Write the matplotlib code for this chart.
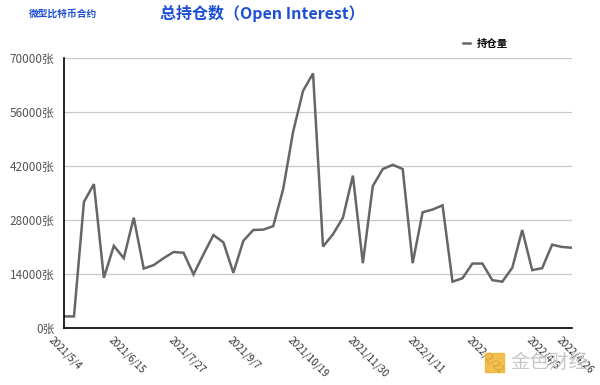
import numpy as np
import pandas as pd
import matplotlib
matplotlib.use("Agg")
import matplotlib.pyplot as plt
from matplotlib.transforms import ScaledTranslation
from matplotlib.patches import Rectangle

plt.rcParams['font.family'] = ['Noto Sans CJK SC', 'DejaVu Sans']

# weekly open interest, micro bitcoin futures (contracts)
dates = pd.date_range('2021-05-04', periods=52, freq='7D')
oi = [3000, 3000, 32700, 37300, 13000, 21300, 18100, 28600, 15400, 16300,
      18100, 19700, 19500, 13900, 19100, 24100, 22200, 14300, 22600, 25400,
      25500, 26400, 36000, 50900, 61500, 66000, 21100, 24300, 28600, 39500,
      16800, 36800, 41200, 42300, 41200, 16800, 30000, 30700, 31800, 12000,
      12900, 16700, 16700, 12400, 12000, 15600, 25400, 15000, 15500, 21600,
      21000, 20800]
yticks = [0, 14000, 28000, 42000, 56000, 70000]
label_idx = list(range(0, 52, 6)) + [51]

fig = plt.figure(figsize=(6, 3.85), dpi=100)
ax = fig.add_axes([0.1067, 0.1481, 0.8467, 0.7013])

x = np.arange(len(oi))
ax.plot(x, oi, color='#666666', lw=1.8, label='持仓量', solid_joinstyle='miter')

ax.set_xlim(0, len(oi) - 1)
ax.set_ylim(0, 70000)
ax.set_yticks(yticks)
ax.set_yticklabels([f'{v}张' for v in yticks], fontsize=8.5, color='#555555')
ax.yaxis.grid(True, color='#c8c8c8', lw=0.9)
ax.set_axisbelow(True)
ax.tick_params(axis='y', length=0, pad=7)

ax.set_xticks(label_idx)
ax.set_xticklabels([f'{d.year}/{d.month}/{d.day}' for d in dates[label_idx]],
                   rotation=-45, ha='left', va='top', rotation_mode='anchor',
                   fontsize=7.3, color='#333333')
ax.tick_params(axis='x', length=0, pad=5)
for lab in ax.get_xticklabels():
    lab.set_transform(lab.get_transform() + ScaledTranslation(-0.1, 0, fig.dpi_scale_trans))

for s in ['top', 'right']:
    ax.spines[s].set_visible(False)
ax.spines['left'].set_color('black')
ax.spines['bottom'].set_color('black')
ax.spines['left'].set_linewidth(1.2)
ax.spines['bottom'].set_linewidth(1.2)

ax.legend(loc='center', bbox_to_anchor=(0.83, 1.052), frameon=False,
          handlelength=0.6, handletextpad=0.7, prop={'size': 7.5, 'weight': 'bold'})

fig.text(0.437, 0.964, '总持仓数（Open Interest）', ha='center', va='center',
         fontsize=11.5, fontweight='bold', color='#1d4fd6')
fig.text(0.048, 0.965, '微型比特币合约', ha='left', va='center',
         fontsize=7, fontweight='bold', color='#1d4fd6')

# watermark
fig.patches.append(Rectangle((0.808, 0.035), 0.032, 0.048, transform=fig.transFigure,
                             color='#f0b330', alpha=0.85, zorder=5))
fig.text(0.85, 0.058, '金色财经', ha='left', va='center', fontsize=14,
         color='#c8c8c8', zorder=5)

fig.savefig('out.png', dpi=100)
